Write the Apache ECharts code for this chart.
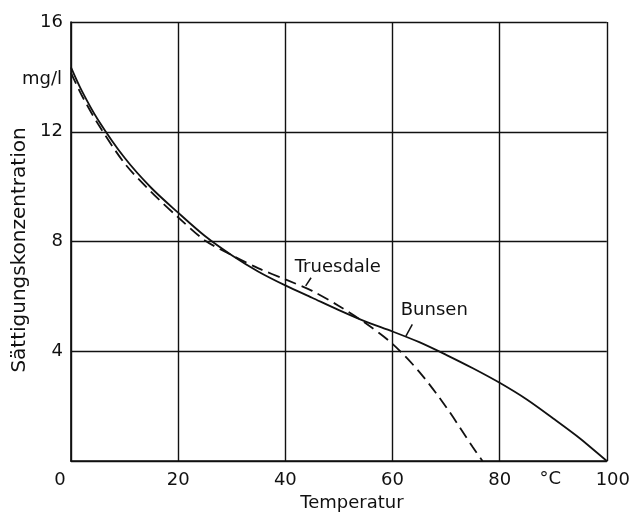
<!DOCTYPE html>
<html>
<head>
<meta charset="utf-8">
<script src="https://cdn.jsdelivr.net/npm/echarts@6/dist/echarts.min.js"></script>
<style>
  html, body { margin: 0; padding: 0; background: #fff; }
  #chart { width: 633px; height: 515px; }
</style>
</head>
<body>
<div id="chart"></div>
<script>
  // Temperatur (°C) und Sättigungskonzentration (mg/l)
  var bunsenT = [0, 2, 5, 10, 15, 20, 25, 30, 35, 40, 45, 50, 55, 60, 65, 70, 75, 80, 85, 90, 95, 100]
  var bunsenC = [14.35, 13.5, 12.45, 11.05, 9.95, 9.05, 8.2, 7.5, 6.9, 6.4, 5.95, 5.5, 5.08, 4.72, 4.33, 3.87, 3.38, 2.85, 2.25, 1.55, 0.82, 0]
  var truesdaleT = [0, 2, 5, 10, 15, 20, 25, 30, 35, 40, 45, 50, 55, 60, 65, 70, 75, 76.8]
  var truesdaleC = [14.15, 13.33, 12.3, 10.85, 9.8, 8.88, 8.04, 7.5, 7.02, 6.62, 6.2, 5.65, 5.02, 4.27, 3.25, 1.97, 0.5, 0]
  var xTicks = [0, 20, 40, 60, 80, 100]
  var yTicks = [0, 4, 8, 12, 16]

  var font = 'DejaVu Sans'
  var ink = '#111'

  function pairs (xs, ys) {
    return xs.map(function (x, i) { return [x, ys[i]] })
  }

  var chart = echarts.init(document.getElementById('chart'))
  chart.setOption({
    animation: false,
    backgroundColor: '#fff',
    grid: { left: 71, right: 22, top: 22, bottom: 54 },
    xAxis: {
      type: 'value',
      min: xTicks[0],
      max: xTicks[xTicks.length - 1],
      interval: 20,
      axisLine: { lineStyle: { color: ink, width: 1.7 } },
      axisTick: { show: false },
      splitLine: { show: true, lineStyle: { color: ink, width: 1.4 } },
      axisLabel: {
        margin: 10,
        fontFamily: font,
        fontSize: 18,
        color: ink,
        formatter: function (v) {
          if (v === 0) return '{a|0}'
          if (v === 100) return '{b|100}'
          return String(v)
        },
        rich: {
          a: { fontFamily: font, fontSize: 18, color: ink, padding: [0, 22, 0, 0] },
          b: { fontFamily: font, fontSize: 18, color: ink, padding: [0, 0, 0, 12] }
        }
      }
    },
    yAxis: {
      type: 'value',
      min: yTicks[0],
      max: yTicks[yTicks.length - 1],
      interval: 4,
      axisLine: { show: true, lineStyle: { color: ink, width: 1.7 } },
      axisTick: { show: false },
      splitLine: { show: true, lineStyle: { color: ink, width: 1.4 } },
      axisLabel: {
        margin: 8,
        fontFamily: font,
        fontSize: 18,
        color: ink,
        formatter: function (v) { return v === 0 ? '' : String(v) }
      }
    },
    series: [
      {
        name: 'Bunsen',
        type: 'line',
        smooth: 0.3,
        symbol: 'none',
        lineStyle: { color: ink, width: 1.8 },
        data: pairs(bunsenT, bunsenC),
        z: 3
      },
      {
        name: 'Truesdale',
        type: 'line',
        smooth: 0.3,
        symbol: 'none',
        lineStyle: { color: ink, width: 1.8, type: [12, 6] },
        data: pairs(truesdaleT, truesdaleC),
        z: 3
      }
    ]
  })

  // Beschriftungen in Datenkoordinaten platzieren
  function px (x, y) { return chart.convertToPixel({ gridIndex: 0 }, [x, y]) }
  var tLab = px(49.8, 7.07), tA = px(44.8, 6.68), tB = px(43.8, 6.38)
  var bLab = px(67.8, 5.5), bA = px(63.7, 4.98), bB = px(62.5, 4.55)
  var unit = px(0, 13.9)
  var deg = px(90, 0)
  var txt = { fontFamily: font, fontSize: 18, fill: ink }

  chart.setOption({
    graphic: [
      { type: 'text', x: 20, y: 250, rotation: Math.PI / 2, style: Object.assign({ text: 'Sättigungskonzentration', align: 'center', verticalAlign: 'middle' }, txt, { fontSize: 20 }) },
      { type: 'text', x: tLab[0], y: tLab[1], style: Object.assign({ text: 'Truesdale', align: 'center', verticalAlign: 'middle' }, txt) },
      { type: 'line', shape: { x1: tA[0], y1: tA[1], x2: tB[0], y2: tB[1] }, style: { stroke: ink, lineWidth: 1.5 } },
      { type: 'text', x: bLab[0], y: bLab[1], style: Object.assign({ text: 'Bunsen', align: 'center', verticalAlign: 'middle' }, txt) },
      { type: 'line', shape: { x1: bA[0], y1: bA[1], x2: bB[0], y2: bB[1] }, style: { stroke: ink, lineWidth: 1.5 } },
      { type: 'text', x: unit[0] - 9, y: unit[1], style: Object.assign({ text: 'mg/l', align: 'right', verticalAlign: 'middle' }, txt) },
      { type: 'text', x: deg[0] - 3, y: deg[1] + 18, style: Object.assign({ text: '°C', align: 'center', verticalAlign: 'middle' }, txt) },
      { type: 'text', x: 352, y: 503, style: Object.assign({ text: 'Temperatur', align: 'center', verticalAlign: 'middle' }, txt) }
    ]
  })
</script>
</body>
</html>
